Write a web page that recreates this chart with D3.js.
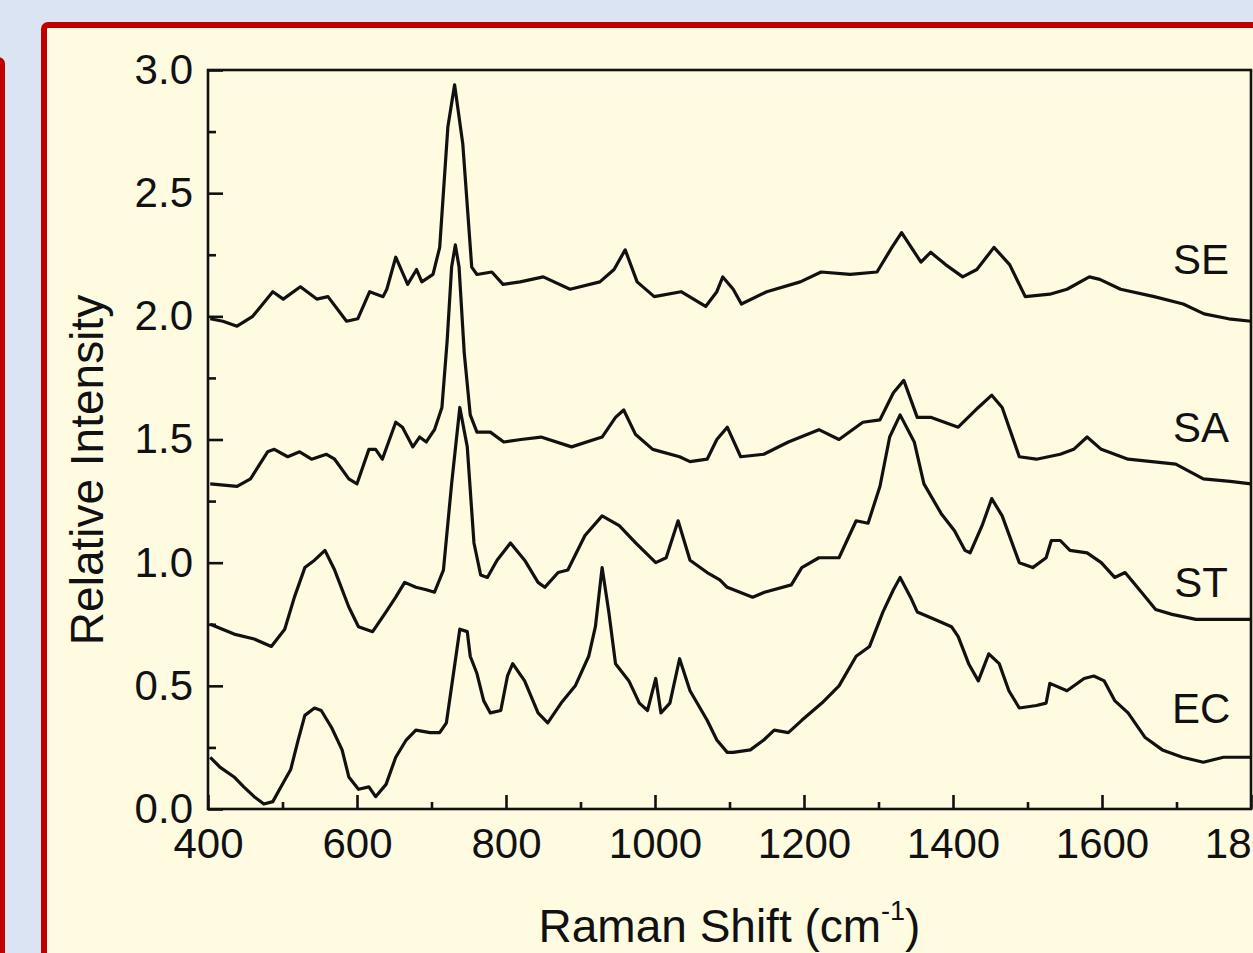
<!DOCTYPE html>
<html>
<head>
<meta charset="utf-8">
<script src="https://cdn.jsdelivr.net/npm/d3@7"></script>
<style>
  html, body { margin: 0; padding: 0; background: #dbe4f2; overflow: hidden; }
  svg { display: block; }
</style>
</head>
<body>
<script>
// Raman spectra: [shift (cm-1), relative intensity]
var seData = [
  [403, 1.99], [420, 1.98], [439, 1.96], [460, 2.00], [487, 2.10], [501, 2.07], [524, 2.12],
  [546, 2.07], [561, 2.08], [586, 1.98], [601, 1.99], [617, 2.10], [635, 2.08], [640, 2.11],
  [652, 2.24], [668, 2.13], [680, 2.19], [687, 2.14], [702, 2.17], [711, 2.28], [722, 2.77],
  [731, 2.94], [742, 2.70], [754, 2.20], [761, 2.17], [781, 2.18], [796, 2.13], [819, 2.14],
  [850, 2.16], [886, 2.11], [926, 2.14], [945, 2.19], [960, 2.27], [976, 2.14], [999, 2.08],
  [1035, 2.10], [1068, 2.04], [1083, 2.10], [1091, 2.16], [1105, 2.11], [1116, 2.05], [1150, 2.10],
  [1195, 2.14], [1223, 2.18], [1262, 2.17], [1298, 2.18], [1318, 2.28], [1331, 2.34], [1357, 2.22],
  [1370, 2.26], [1390, 2.21], [1413, 2.16], [1432, 2.19], [1455, 2.28], [1476, 2.21], [1497, 2.08],
  [1530, 2.09], [1553, 2.11], [1583, 2.16], [1597, 2.15], [1625, 2.11], [1670, 2.08], [1709, 2.05],
  [1737, 2.01], [1770, 1.99], [1800, 1.98]
];

var saData = [
  [403, 1.32], [439, 1.31], [457, 1.34], [480, 1.45], [489, 1.46], [507, 1.43], [523, 1.45],
  [539, 1.42], [559, 1.44], [570, 1.42], [589, 1.34], [600, 1.32], [616, 1.46], [625, 1.46],
  [634, 1.42], [652, 1.57], [661, 1.55], [675, 1.47], [684, 1.51], [693, 1.49], [704, 1.54],
  [714, 1.63], [721, 1.90], [727, 2.20], [732, 2.29], [737, 2.20], [744, 1.85], [752, 1.60],
  [761, 1.53], [779, 1.53], [797, 1.49], [820, 1.50], [847, 1.51], [888, 1.47], [929, 1.51],
  [947, 1.59], [958, 1.62], [974, 1.52], [997, 1.46], [1033, 1.43], [1047, 1.41], [1070, 1.42],
  [1083, 1.50], [1097, 1.55], [1115, 1.43], [1146, 1.44], [1179, 1.49], [1220, 1.54], [1247, 1.50],
  [1279, 1.57], [1302, 1.58], [1320, 1.69], [1334, 1.74], [1352, 1.59], [1370, 1.59], [1407, 1.55],
  [1434, 1.63], [1452, 1.68], [1466, 1.63], [1489, 1.43], [1512, 1.42], [1544, 1.44], [1562, 1.46],
  [1580, 1.51], [1599, 1.46], [1635, 1.42], [1667, 1.41], [1699, 1.40], [1736, 1.34], [1772, 1.33],
  [1800, 1.32]
];

var stData = [
  [403, 0.75], [435, 0.71], [462, 0.69], [485, 0.66], [503, 0.73], [516, 0.86], [530, 0.98],
  [543, 1.01], [557, 1.05], [570, 0.97], [589, 0.82], [602, 0.74], [621, 0.72], [639, 0.80],
  [652, 0.86], [664, 0.92], [679, 0.90], [693, 0.89], [704, 0.88], [716, 0.97], [727, 1.32],
  [738, 1.63], [748, 1.47], [757, 1.08], [766, 0.95], [775, 0.94], [788, 1.01], [806, 1.08],
  [825, 1.01], [843, 0.92], [852, 0.90], [870, 0.96], [883, 0.97], [906, 1.11], [929, 1.19],
  [952, 1.15], [974, 1.08], [1001, 1.00], [1015, 1.02], [1031, 1.17], [1047, 1.01], [1070, 0.96],
  [1087, 0.93], [1097, 0.90], [1131, 0.86], [1147, 0.88], [1183, 0.91], [1197, 0.98], [1220, 1.02],
  [1247, 1.02], [1270, 1.17], [1286, 1.16], [1302, 1.31], [1315, 1.51], [1329, 1.60], [1348, 1.49],
  [1361, 1.32], [1384, 1.20], [1402, 1.13], [1416, 1.05], [1423, 1.04], [1439, 1.15], [1452, 1.26],
  [1466, 1.19], [1489, 1.00], [1507, 0.98], [1525, 1.02], [1532, 1.09], [1544, 1.09], [1557, 1.05],
  [1580, 1.04], [1599, 1.00], [1617, 0.94], [1631, 0.96], [1653, 0.88], [1672, 0.81], [1694, 0.79],
  [1726, 0.77], [1763, 0.77], [1800, 0.77]
];

var ecData = [
  [403, 0.21], [416, 0.17], [435, 0.13], [448, 0.09], [462, 0.05], [475, 0.02], [487, 0.03],
  [498, 0.09], [511, 0.16], [521, 0.28], [530, 0.38], [543, 0.41], [552, 0.40], [566, 0.33],
  [580, 0.24], [589, 0.13], [602, 0.08], [616, 0.09], [625, 0.05], [639, 0.10], [652, 0.21],
  [666, 0.28], [679, 0.32], [698, 0.31], [711, 0.31], [720, 0.35], [729, 0.54], [738, 0.73],
  [748, 0.72], [752, 0.62], [761, 0.55], [770, 0.44], [779, 0.39], [793, 0.40], [802, 0.54],
  [809, 0.59], [825, 0.52], [843, 0.39], [856, 0.35], [874, 0.43], [893, 0.50], [911, 0.62],
  [920, 0.74], [929, 0.98], [938, 0.80], [947, 0.59], [965, 0.52], [979, 0.43], [990, 0.40],
  [1001, 0.53], [1008, 0.39], [1020, 0.43], [1033, 0.61], [1047, 0.48], [1070, 0.36], [1083, 0.28],
  [1097, 0.23], [1105, 0.23], [1128, 0.24], [1146, 0.28], [1160, 0.32], [1179, 0.31], [1197, 0.36],
  [1224, 0.43], [1247, 0.50], [1270, 0.62], [1288, 0.66], [1306, 0.80], [1320, 0.89], [1329, 0.94],
  [1343, 0.86], [1352, 0.80], [1375, 0.77], [1398, 0.74], [1407, 0.70], [1421, 0.59], [1434, 0.52],
  [1448, 0.63], [1462, 0.59], [1475, 0.48], [1489, 0.41], [1512, 0.42], [1525, 0.43], [1530, 0.51],
  [1553, 0.48], [1576, 0.53], [1589, 0.54], [1603, 0.52], [1617, 0.44], [1635, 0.39], [1658, 0.29],
  [1681, 0.24], [1708, 0.21], [1736, 0.19], [1763, 0.21], [1800, 0.21]
];

var seriesNames = ["SE", "SA", "ST", "EC"];
var labelLevels = [2.17, 1.49, 0.86, 0.35];   // baseline of the curve labels
var xTicks = [400, 600, 800, 1000, 1200, 1400, 1600, 1800];
var xMinorTicks = [500, 700, 900, 1100, 1300, 1500, 1700];
var yTicks = [0, 0.5, 1.0, 1.5, 2.0, 2.5, 3.0];
var yMinorTicks = [0.25, 0.75, 1.25, 1.75, 2.25, 2.75];

var allSeries = [seData, saData, stData, ecData];

// page size
var svgWidth = 1253;
var svgHeight = 953;

// plot box in page pixels
var plot = { left: 208, right: 1251, top: 70, bottom: 809 };

var font = "'Liberation Sans', Arial, Helvetica, sans-serif";

var svg = d3.select("body")
  .append("svg")
  .attr("width", svgWidth)
  .attr("height", svgHeight);

// slide background: a panel peeking in on the left and the main panel
svg.append("rect")
  .attr("x", -200).attr("y", 59.5)
  .attr("width", 202.5).attr("height", 1000)
  .attr("rx", 4)
  .attr("fill", "#dbe4f2")
  .attr("stroke", "#c00000")
  .attr("stroke-width", 5);

svg.append("rect")
  .attr("x", 44).attr("y", 25)
  .attr("width", 1400).attr("height", 1100)
  .attr("rx", 4)
  .attr("fill", "#fefbe1")
  .attr("stroke", "#c00000")
  .attr("stroke-width", 6);

var x = d3.scaleLinear().domain([400, 1800]).range([plot.left, plot.right]);
var y = d3.scaleLinear().domain([0, 3]).range([plot.bottom, plot.top]);

// axes with inward ticks
var bottomAxis = d3.axisBottom(x)
  .tickValues(xTicks)
  .tickFormat(d3.format("d"))
  .tickSizeInner(-14)
  .tickSizeOuter(0)
  .tickPadding(19);

var bottomMinor = d3.axisBottom(x)
  .tickValues(xMinorTicks)
  .tickFormat("")
  .tickSizeInner(-7)
  .tickSizeOuter(0);

var leftAxis = d3.axisLeft(y)
  .tickValues(yTicks)
  .tickFormat(d3.format(".1f"))
  .tickSizeInner(-15)
  .tickSizeOuter(0)
  .tickPadding(15);

var leftMinor = d3.axisLeft(y)
  .tickValues(yMinorTicks)
  .tickFormat("")
  .tickSizeInner(-8)
  .tickSizeOuter(0);

function styleAxis(g) {
  g.select(".domain").remove();
  g.selectAll("line").attr("stroke", "#111").attr("stroke-width", 2.6);
  g.selectAll("text")
    .attr("fill", "#111")
    .style("font-family", font)
    .style("font-size", "42px");
}

svg.append("g")
  .attr("transform", "translate(0," + plot.bottom + ")")
  .call(bottomAxis)
  .call(styleAxis);

svg.append("g")
  .attr("transform", "translate(0," + plot.bottom + ")")
  .call(bottomMinor)
  .call(styleAxis);

svg.append("g")
  .attr("transform", "translate(" + plot.left + ",0)")
  .call(leftAxis)
  .call(styleAxis);

svg.append("g")
  .attr("transform", "translate(" + plot.left + ",0)")
  .call(leftMinor)
  .call(styleAxis);

// frame
svg.append("rect")
  .attr("x", plot.left).attr("y", plot.top)
  .attr("width", plot.right - plot.left)
  .attr("height", plot.bottom - plot.top)
  .attr("fill", "none")
  .attr("stroke", "#111")
  .attr("stroke-width", 2.6);

// spectra
var line = d3.line()
  .x(d => x(d[0]))
  .y(d => y(d[1]));

svg.selectAll(".spectrum")
  .data(allSeries)
  .enter()
  .append("path")
  .attr("class", "spectrum")
  .attr("d", line)
  .attr("fill", "none")
  .attr("stroke", "#111")
  .attr("stroke-width", 3.2)
  .attr("stroke-linejoin", "round");

// curve labels
svg.selectAll(".label")
  .data(seriesNames)
  .enter()
  .append("text")
  .attr("class", "label")
  .attr("x", x(1733))
  .attr("y", (d, i) => y(labelLevels[i]))
  .attr("text-anchor", "middle")
  .style("font-family", font)
  .style("font-size", "42px")
  .attr("fill", "#111")
  .text(d => d);

// axis titles
var xTitle = svg.append("text")
  .attr("x", (plot.left + plot.right) / 2)
  .attr("y", 942)
  .attr("text-anchor", "middle")
  .style("font-family", font)
  .style("font-size", "46px")
  .attr("fill", "#111");
xTitle.append("tspan").text("Raman Shift (cm");
xTitle.append("tspan").attr("dy", -22).style("font-size", "27px").text("-1");
xTitle.append("tspan").attr("dy", 22).text(")");

svg.append("text")
  .attr("transform", "translate(103,470) rotate(-90)")
  .attr("text-anchor", "middle")
  .style("font-family", font)
  .style("font-size", "46px")
  .attr("fill", "#111")
  .text("Relative Intensity");
</script>
</body>
</html>
